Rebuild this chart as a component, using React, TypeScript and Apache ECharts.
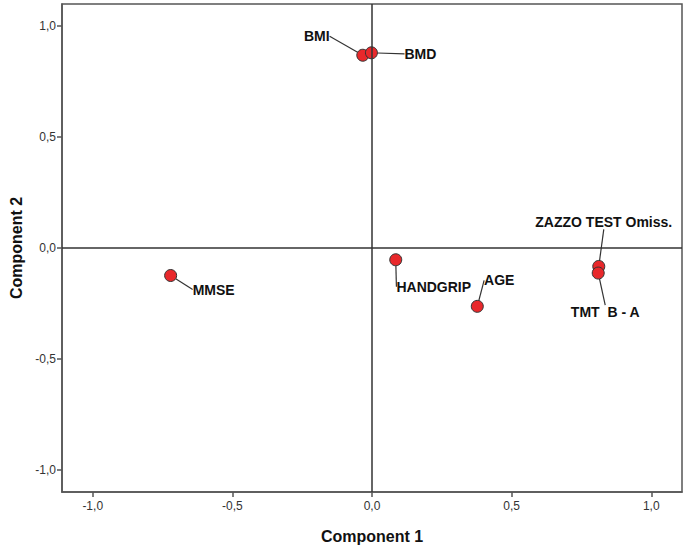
import React, { useEffect, useRef } from "react";
import * as echarts from "echarts";

const names = ["BMI", "BMD", "MMSE", "HANDGRIP", "AGE", "ZAZZO TEST Omiss.", "TMT  B - A"];
const comp1 = [-0.033, -0.002, -0.721, 0.085, 0.377, 0.812, 0.81];
const comp2 = [0.869, 0.88, -0.124, -0.053, -0.263, -0.083, -0.113];
const tickValues = [-1, -0.5, 0, 0.5, 1];
// label offsets (px) from each point
const labelOffsets = [
  [-46, -19],
  [49, 1],
  [43, 14],
  [38, 27],
  [22, -26],
  [5, -44],
  [7, 39],
];

const fmt = (v: number) => v.toFixed(1).replace(".", ",");

export default function App() {
  const ref = useRef<HTMLDivElement>(null);
  useEffect(() => {
    if (!ref.current) return;
    const chart = echarts.init(ref.current, undefined, { renderer: "svg" });
    const font = "'Liberation Sans', Arial, sans-serif";
    const axisCommon = {
      type: "value" as const,
      splitLine: { show: false },
      axisLine: { show: true, onZero: false, lineStyle: { color: "#555", width: 1.5 } },
      axisTick: { show: true, length: 5, customValues: tickValues, lineStyle: { color: "#555", width: 1.5 } },
      axisLabel: {
        customValues: tickValues,
        formatter: fmt,
        color: "#333",
        fontSize: 12,
        fontFamily: font,
      },
      nameLocation: "middle" as const,
      nameTextStyle: { fontSize: 16, fontWeight: "bold" as const, color: "#111", fontFamily: font },
    };
    chart.setOption({
      animation: false,
      backgroundColor: "#fff",
      grid: {
        left: 57,
        right: 3,
        top: 4,
        bottom: 55,
        show: true,
        borderColor: "#555",
        borderWidth: 1.5,
      },
      xAxis: {
        ...axisCommon,
        min: -1.11,
        max: 1.11,
        name: "Component 1",
        nameGap: 36,
        axisLabel: { ...axisCommon.axisLabel, margin: 8 },
      },
      yAxis: {
        ...axisCommon,
        min: -1.1,
        max: 1.1,
        name: "Component 2",
        nameGap: 38,
        axisLabel: { ...axisCommon.axisLabel, margin: 6 },
      },
      series: [
        {
          type: "scatter",
          symbolSize: 12,
          itemStyle: { color: "#e8282b", borderColor: "#333", borderWidth: 1, opacity: 1 },
          data: names.map((n, i) => ({ name: n, value: [comp1[i], comp2[i]] })),
          label: {
            show: true,
            position: "inside",
            formatter: (p: any) => p.name,
            color: "#111",
            fontSize: 14,
            fontWeight: "bold",
            fontFamily: font,
          },
          labelLine: { show: true, lineStyle: { color: "#333", width: 1.2 } },
          labelLayout: (p: any) => ({
            dx: labelOffsets[p.dataIndex][0],
            dy: labelOffsets[p.dataIndex][1],
          }),
          markLine: {
            silent: true,
            symbol: "none",
            label: { show: false },
            lineStyle: { color: "#333", width: 1.5, type: "solid" },
            data: [{ xAxis: 0 }, { yAxis: 0 }],
          },
          z: 3,
        },
      ],
    });
    return () => chart.dispose();
  }, []);
  return (
    <div
      ref={ref}
      style={{ position: "fixed", left: 0, top: 0, width: 685, height: 549 }}
    />
  );
}
